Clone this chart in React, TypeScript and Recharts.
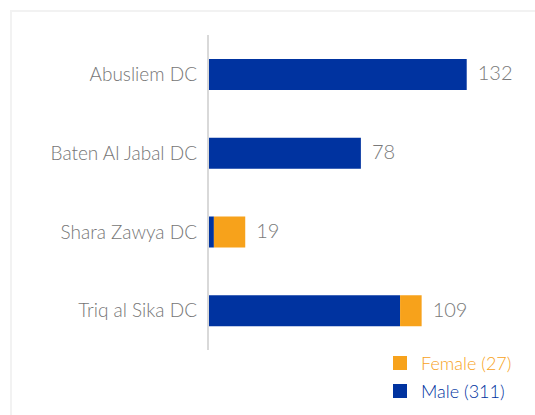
import { BarChart, Bar, XAxis, YAxis, LabelList } from 'recharts'

const centres = ['Abusliem DC', 'Baten Al Jabal DC', 'Shara Zawya DC', 'Triq al Sika DC']
const male = [132, 78, 3, 98]
const female = [0, 0, 16, 11]

const MALE = '#0033A0'
const FEMALE = '#F7A21B'
const FONT = 'Lato, "Open Sans", sans-serif'

const data = centres.map((name, i) => ({
  name,
  male: male[i],
  female: female[i],
  total: male[i] + female[i],
}))

const maleTotal = male.reduce((a, b) => a + b, 0)
const femaleTotal = female.reduce((a, b) => a + b, 0)

const legendItems = [
  { label: `Female (${femaleTotal})`, color: FEMALE },
  { label: `Male (${maleTotal})`, color: MALE },
]

// label sits on the male bar; its end is pushed out by the female share
function TotalLabel(props: any) {
  const { x, y, width, height, index } = props
  const d = data[index]
  const end = x + (width * d.total) / d.male
  return (
    <text
      x={end + 11}
      y={y + height / 2 + 1}
      dominantBaseline="middle"
      fill="#7a7a7a"
      fontSize={20}
      fontFamily={FONT}
      fontWeight={300}
    >
      {d.total}
    </text>
  )
}

export default function App() {
  return (
    <div style={{ position: 'absolute', left: 0, top: 0, width: 535, height: 415, overflow: 'hidden', background: '#fff' }}>
      <div
        style={{
          position: 'absolute',
          left: 10,
          top: 10,
          width: 600,
          height: 500,
          border: '2px solid #f2f2f2',
        }}
      />
      <div style={{ position: 'absolute', left: 0, top: 0 }}>
        <BarChart
          width={535}
          height={415}
          data={data}
          layout="vertical"
          margin={{ top: 35, right: 33, bottom: 65, left: 0 }}
        >
          <XAxis type="number" domain={[0, 150]} hide />
          <YAxis
            type="category"
            dataKey="name"
            width={208}
            tickLine={false}
            tickSize={0}
            tickMargin={11}
            axisLine={{ stroke: '#d9d9d9', strokeWidth: 2 }}
            tick={{ fill: '#767676', fontSize: 19, fontFamily: FONT, fontWeight: 300 }}
          />
          <Bar dataKey="male" stackId="a" fill={MALE} barSize={31} isAnimationActive={false}>
            <LabelList dataKey="total" content={<TotalLabel />} />
          </Bar>
          <Bar dataKey="female" stackId="a" fill={FEMALE} barSize={31} isAnimationActive={false} />
        </BarChart>
      </div>
      <div style={{ position: 'absolute', left: 393, top: 349, fontFamily: FONT, fontWeight: 300, fontSize: 18 }}>
        {legendItems.map((it) => (
          <div key={it.label} style={{ display: 'flex', alignItems: 'center', height: 28 }}>
            <span style={{ width: 14, height: 14, background: it.color, display: 'inline-block', marginRight: 14 }} />
            <span style={{ color: it.color }}>{it.label}</span>
          </div>
        ))}
      </div>
    </div>
  )
}
